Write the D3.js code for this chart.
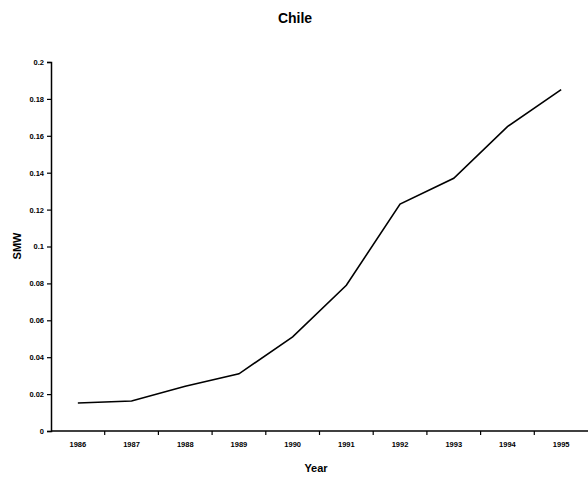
<!DOCTYPE html>
<html>
<head>
<meta charset="utf-8">
<script src="https://cdn.jsdelivr.net/npm/d3@7"></script>
<style>
  body { margin: 0; background: #fff; }
  svg { display: block; font-family: "Liberation Sans", Arial, sans-serif; }
  .tick text { font-size: 7.5px; font-weight: bold; fill: #000; }
</style>
</head>
<body>
<svg id="chart" width="588" height="479"></svg>
<script>
// years and SMW values
const years = ["1986", "1987", "1988", "1989", "1990", "1991", "1992", "1993", "1994", "1995"]
const smw = [0.0152, 0.0163, 0.0243, 0.031, 0.051, 0.079, 0.123, 0.137, 0.165, 0.185]
const yTicks = [0, 0.02, 0.04, 0.06, 0.08, 0.1, 0.12, 0.14, 0.16, 0.18, 0.2]

const svg = d3.select('#chart')
const margin = { top: 62, left: 51, right: 0, bottom: 48 }
const width = 588, height = 479
const innerWidth = width - margin.left - margin.right
const innerHeight = height - margin.top - margin.bottom

const g = svg.append('g').attr('transform', `translate(${margin.left},${margin.top})`)

const x = d3.scaleBand().domain(years).range([0, innerWidth])
const y = d3.scaleLinear().domain([0, 0.2]).range([innerHeight, 0])

// y axis
const yAxis = d3.axisLeft(y).tickValues(yTicks).tickSize(4).tickPadding(3)
  .tickFormat(d => d === 0 ? "0" : String(+d.toFixed(2)))
const yg = g.append('g').call(yAxis)
yg.select('.domain').attr('stroke', '#000').attr('stroke-width', 1.5)
yg.selectAll('.tick line').attr('stroke', '#000').attr('stroke-width', 1.2)

// x axis, ticks between categories like the original
const xg = g.append('g').attr('transform', `translate(0,${innerHeight})`)
xg.append('line').attr('x1', 0).attr('x2', innerWidth)
  .attr('stroke', '#000').attr('stroke-width', 1.5)
xg.selectAll('.xtick').data(years.slice(1)).enter().append('line')
  .attr('x1', d => x(d)).attr('x2', d => x(d))
  .attr('y1', 0).attr('y2', 4)
  .attr('stroke', '#000').attr('stroke-width', 1.2)
xg.selectAll('.xlab').data(years).enter().append('text')
  .attr('x', d => x(d) + x.bandwidth() / 2)
  .attr('y', 16)
  .attr('text-anchor', 'middle')
  .style('font-size', '7.5px').style('font-weight', 'bold')
  .text(d => d)

// the line
const line = d3.line()
  .x((d, i) => x(years[i]) + x.bandwidth() / 2)
  .y(d => y(d))
g.append('path').datum(smw)
  .attr('d', line)
  .attr('fill', 'none')
  .attr('stroke', '#000')
  .attr('stroke-width', 1.6)

// titles
svg.append('text').attr('x', 295).attr('y', 23).attr('text-anchor', 'middle')
  .style('font-size', '14px').style('font-weight', 'bold').text('Chile')
svg.append('text').attr('x', 316).attr('y', 472).attr('text-anchor', 'middle')
  .style('font-size', '11px').style('font-weight', 'bold').text('Year')
svg.append('text')
  .attr('transform', 'translate(21,246) rotate(-90)')
  .attr('text-anchor', 'middle')
  .style('font-size', '11px').style('font-weight', 'bold').text('SMW')
</script>
</body>
</html>
